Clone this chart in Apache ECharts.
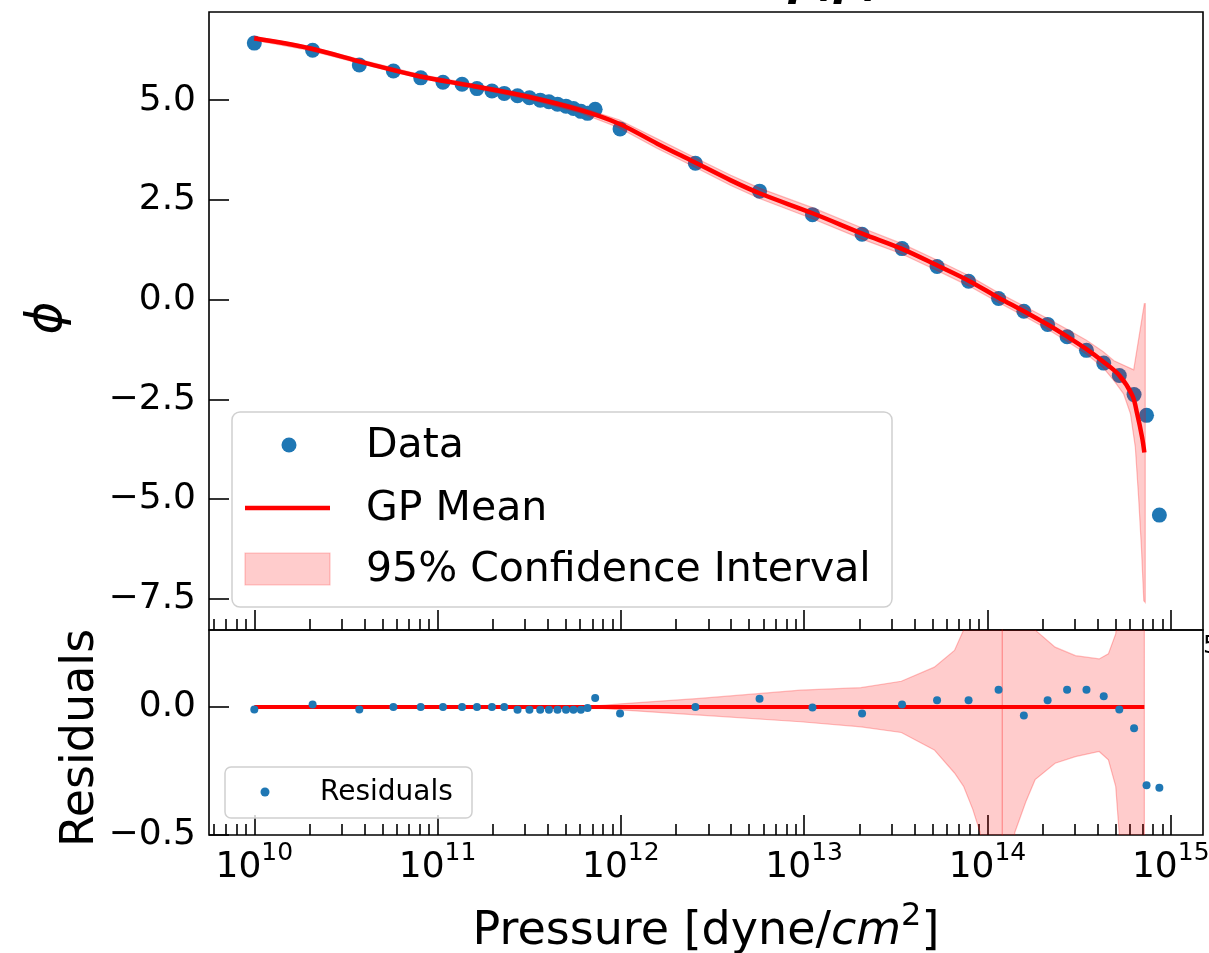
<!DOCTYPE html>
<html><head><meta charset="utf-8">
<script src="https://cdn.jsdelivr.net/npm/echarts@6/dist/echarts.min.js"></script>
<style>html,body{margin:0;padding:0;background:#fff}#c{width:1209px;height:953px}</style>
</head><body><div id="c"></div><script>
// ---- data ----
const pressure = [1.0e10, 2.08e10, 3.74e10, 5.74e10, 8.09e10, 1.07e11, 1.36e11, 1.64e11, 1.98e11, 2.31e11,
  2.73e11, 3.17e11, 3.63e11, 4.05e11, 4.51e11, 5.02e11, 5.51e11, 6.05e11, 6.58e11, 7.24e11,
  9.9e11, 2.55e12, 5.71e12, 1.11e13, 2.07e13, 3.42e13, 5.31e13, 7.89e13, 1.15e14, 1.58e14,
  2.13e14, 2.72e14, 3.47e14, 4.31e14, 5.24e14, 6.31e14, 7.38e14, 8.67e14];
const phi = [6.43, 6.25, 5.88, 5.73, 5.56, 5.45, 5.40, 5.29, 5.23, 5.17,
  5.11, 5.06, 5.00, 4.96, 4.90, 4.85, 4.79, 4.72, 4.67, 4.77,
  4.28, 3.42, 2.72, 2.13, 1.64, 1.28, 0.83, 0.46, 0.03, -0.29,
  -0.62, -0.93, -1.27, -1.59, -1.90, -2.38, -2.90, -5.40];
const residuals = [-0.010, 0.009, -0.010, 0.000, 0.000, 0.000, 0.000, 0.000, 0.000, 0.000,
  -0.011, -0.011, -0.011, -0.011, -0.011, -0.011, -0.011, -0.011, -0.004, 0.035,
  -0.026, 0.000, 0.032, -0.002, -0.026, 0.009, 0.026, 0.026, 0.067, -0.034,
  0.026, 0.067, 0.067, 0.041, -0.010, -0.083, -0.306, -0.316];

// GP mean curve
const gpX = [1.0e10, 2.0e10, 3.98e10, 7.94e10, 1.58e11, 3.16e11, 6.03e11, 9.77e11, 1.58e12, 2.51e12,
  3.98e12, 5.75e12, 1.12e13, 2.09e13, 3.39e13, 5.37e13, 7.94e13, 1.15e14, 1.58e14, 2.14e14,
  2.69e14, 3.47e14, 4.27e14, 5.25e14, 6.17e14, 6.56e14, 6.98e14, 7.18e14];
const gpY = [6.55, 6.30, 5.94, 5.60, 5.35, 5.08, 4.75, 4.41, 3.91, 3.45,
  2.99, 2.66, 2.16, 1.65, 1.28, 0.85, 0.47, 0.05, -0.29, -0.63,
  -0.91, -1.24, -1.55, -1.90, -2.40, -2.86, -3.45, -3.83];

// 95% confidence interval (top panel)
const ciUpX = [1.0e10, 2.0e10, 3.98e10, 7.94e10, 1.58e11, 3.16e11, 6.03e11, 9.77e11, 1.58e12, 2.51e12,
  3.98e12, 5.75e12, 1.12e13, 2.09e13, 3.39e13, 5.37e13, 7.94e13, 1.15e14, 1.58e14, 2.14e14,
  2.69e14, 3.47e14, 4.27e14, 4.90e14, 6.28e14, 7.18e14, 7.26e14];
const ciUpY = [6.60, 6.35, 5.99, 5.65, 5.40, 5.14, 4.82, 4.51, 4.03, 3.57,
  3.12, 2.79, 2.30, 1.79, 1.41, 0.98, 0.60, 0.17, -0.16, -0.48,
  -0.73, -1.02, -1.30, -1.53, -1.76, -0.10, -0.10];
const ciLoX = [1.0e10, 2.0e10, 3.98e10, 7.94e10, 1.58e11, 3.16e11, 6.03e11, 9.77e11, 1.58e12, 2.51e12,
  3.98e12, 5.75e12, 1.12e13, 2.09e13, 3.39e13, 5.37e13, 7.94e13, 1.15e14, 1.58e14, 2.14e14,
  2.69e14, 3.47e14, 4.27e14, 4.90e14, 5.53e14, 6.03e14, 6.41e14, 6.68e14, 6.92e14, 7.13e14, 7.26e14];
const ciLoY = [6.50, 6.25, 5.89, 5.55, 5.30, 5.02, 4.68, 4.31, 3.79, 3.33,
  2.86, 2.53, 2.02, 1.51, 1.15, 0.72, 0.34, -0.07, -0.41, -0.75,
  -1.03, -1.36, -1.70, -2.03, -2.36, -2.86, -3.70, -4.96, -6.21, -7.55, -7.59];

// residual panel: zero line and interval
const resLineX = [1.0e10, 7.18e14];
const resLineY = [0, 0];
const resBandX = [7.08e11, 1.0e12, 2.69e12, 9.55e12, 2.04e13, 3.39e13, 5.13e13, 6.61e13, 7.41e13, 8.32e13,
  9.12e13, 1.0e14, 1.17e14, 1.205e14, 1.23e14, 1.41e14, 1.62e14, 1.82e14, 2.34e14, 3.02e14,
  4.07e14, 4.57e14, 5.01e14, 5.37e14, 6.31e14, 7.18e14];
const resBandUp = [0.003, 0.012, 0.033, 0.065, 0.075, 0.10, 0.155, 0.22, 0.30, 0.42,
  0.6, 0.9, 3, 50, 3, 0.9, 0.5, 0.30, 0.233, 0.20,
  0.187, 0.207, 0.285, 0.5, 2, 5];
const resBandLo = [-0.003, -0.012, -0.032, -0.058, -0.078, -0.10, -0.168, -0.258, -0.31, -0.40,
  -0.49, -0.7, -3, -50, -3, -0.49, -0.37, -0.284, -0.22, -0.194,
  -0.174, -0.207, -0.31, -0.6, -2, -5];
// the interval's edge where it flips sign (thin vertical edge)
const resEdgeX = [1.205e14, 1.205e14];
const resEdgeY = [-50, 50];

// axes
const X_MIN = 5.66e9, X_MAX = 1.50e15;
const xMajorTicks = [1e10, 1e11, 1e12, 1e13, 1e14, 1e15];
const xMinorTicks = [];
for (let e = 9; e <= 14; e++) for (let k = 2; k <= 9; k++) xMinorTicks.push(k * Math.pow(10, e));
const phiTicks = [-7.5, -5.0, -2.5, 0.0, 2.5, 5.0];
const resTicks = [-0.5, 0.0];

// ---- chart ----
const FONT = 'DejaVu Sans';
const BLUE = '#1f77b4';
const tickLine = { color: '#000', width: 1.6 };
const fmtNum = v => (v < 0 ? '\u2212' : '') + Math.abs(v).toFixed(1);

function xAx(grid, major, labels) {
  const ax = {
    type: 'log', logBase: 10, gridIndex: grid, min: X_MIN, max: X_MAX, position: 'bottom',
    axisLine: { show: false, onZero: false }, splitLine: { show: false },
    axisTick: { show: true, inside: true, length: major ? 20 : 11,
      customValues: major ? xMajorTicks : xMinorTicks, lineStyle: tickLine },
    axisLabel: { show: false }
  };
  if (labels) {
    ax.axisLabel = {
      show: true, customValues: xMajorTicks, margin: 6,
      formatter: v => '{b|10}{s|' + Math.round(Math.log10(v)) + '}',
      rich: {
        b: { fontSize: 36, fontFamily: FONT, color: '#000', verticalAlign: 'bottom', lineHeight: 40 },
        s: { fontSize: 25, fontFamily: FONT, color: '#000', verticalAlign: 'bottom', padding: [0, 0, 20, 0] }
      }
    };
    ax.name = '{n|Pressure [dyne/}{i|cm}{s|2}{n|]}';
    ax.nameLocation = 'middle';
    ax.nameGap = 66;
    ax.nameTextStyle = {
      rich: {
        n: { fontSize: 46, fontFamily: FONT, color: '#000', verticalAlign: 'bottom', lineHeight: 52 },
        i: { fontSize: 46, fontFamily: FONT, fontStyle: 'italic', color: '#000', verticalAlign: 'bottom', lineHeight: 52 },
        s: { fontSize: 32, fontFamily: FONT, color: '#000', verticalAlign: 'bottom', padding: [0, 0, 22, 0] }
      }
    };
  }
  return ax;
}

function bandSeries(xi, yi, upX, upY, loX, loY, z) {
  return {
    type: 'custom', xAxisIndex: xi, yAxisIndex: yi, clip: true, z: z, silent: true,
    data: [[upX[0], upY[0]]],
    renderItem: (params, api) => {
      const pts = [];
      for (let i = 0; i < upX.length; i++) pts.push(api.coord([upX[i], upY[i]]));
      for (let i = loX.length - 1; i >= 0; i--) pts.push(api.coord([loX[i], loY[i]]));
      return { type: 'polygon', shape: { points: pts },
        style: { fill: 'rgba(255,0,0,0.2)', stroke: 'rgba(255,0,0,0.25)', lineWidth: 1.2 } };
    }
  };
}

const option = {
  backgroundColor: '#fff',
  animation: false,
  grid: [
    { left: 209, right: 6, top: 12, height: 618, show: true, borderColor: '#000', borderWidth: 1.6,
      backgroundColor: 'transparent', containLabel: false, outerBoundsMode: 'none' },
    { left: 209, right: 6, top: 630, height: 205, show: true, borderColor: '#000', borderWidth: 1.6,
      backgroundColor: 'transparent', containLabel: false, outerBoundsMode: 'none' }
  ],
  xAxis: [xAx(0, true, false), xAx(0, false, false), xAx(1, true, true), xAx(1, false, false)],
  yAxis: [
    { type: 'value', gridIndex: 0, min: -8.28, max: 7.21,
      axisLine: { show: false, onZero: false }, splitLine: { show: false },
      axisTick: { show: true, inside: true, length: 20, customValues: phiTicks, lineStyle: tickLine },
      axisLabel: { customValues: phiTicks, formatter: fmtNum, fontSize: 36, fontFamily: FONT, color: '#000', margin: 13 } },
    { type: 'value', gridIndex: 1, min: -0.5, max: 0.3,
      axisLine: { show: false, onZero: false }, splitLine: { show: false },
      axisTick: { show: true, inside: true, length: 20, customValues: resTicks, lineStyle: tickLine },
      axisLabel: { customValues: resTicks, formatter: fmtNum, fontSize: 36, fontFamily: FONT, color: '#000', margin: 13 } }
  ],
  series: [
    { name: 'Data', type: 'scatter', xAxisIndex: 0, yAxisIndex: 0, symbolSize: 15, z: 2,
      itemStyle: { color: BLUE, opacity: 1 },
      data: pressure.map((p, i) => [p, phi[i]]) },
    { name: 'GP Mean', type: 'line', xAxisIndex: 0, yAxisIndex: 0, showSymbol: false, smooth: 0.35, z: 3,
      lineStyle: { color: '#ff0000', width: 4.5 },
      data: gpX.map((p, i) => [p, gpY[i]]) },
    bandSeries(0, 0, ciUpX, ciUpY, ciLoX, ciLoY, 4),
    bandSeries(2, 1, resBandX, resBandUp, resBandX, resBandLo, 2),
    { name: 'Residual interval edge', type: 'line', xAxisIndex: 2, yAxisIndex: 1, showSymbol: false, z: 2,
      silent: true, clip: true, lineStyle: { color: 'rgba(255,0,0,0.3)', width: 1.3 },
      data: resEdgeX.map((p, i) => [p, resEdgeY[i]]) },
    { name: 'Residual mean', type: 'line', xAxisIndex: 2, yAxisIndex: 1, showSymbol: false, z: 3,
      lineStyle: { color: '#ff0000', width: 4 },
      data: resLineX.map((p, i) => [p, resLineY[i]]) },
    { name: 'Residuals', type: 'scatter', xAxisIndex: 2, yAxisIndex: 1, symbolSize: 8, z: 4,
      itemStyle: { color: BLUE, opacity: 1 },
      data: pressure.map((p, i) => [p, residuals[i]]) }
  ],
  graphic: [
    // y-axis titles
    { type: 'text', z: 10, x: 48, y: 318, rotation: Math.PI / 2,
      style: { text: '\u03D5', fontSize: 50, fontFamily: FONT, fontStyle: 'italic', fill: '#000', align: 'center', verticalAlign: 'middle' } },
    { type: 'text', z: 10, x: 81, y: 738, rotation: Math.PI / 2,
      style: { text: 'Residuals', fontSize: 46, fontFamily: FONT, fill: '#000', align: 'center', verticalAlign: 'middle' } },
    // clipped title at the top edge
    { type: 'text', z: 10, style: { text: '\u03D5(p)', x: 832, y: 6, fontSize: 44, fontFamily: FONT, fontStyle: 'italic', fontWeight: 'bold', fill: '#000', align: 'center', verticalAlign: 'bottom' } },
    // top legend
    { type: 'rect', z: 20, shape: { x: 232, y: 412, width: 660, height: 195, r: 8 },
      style: { fill: 'rgba(255,255,255,0.8)', stroke: '#d0d0d0', lineWidth: 1.5 } },
    { type: 'circle', z: 21, shape: { cx: 289, cy: 445, r: 7.5 }, style: { fill: BLUE } },
    { type: 'text', z: 21, style: { text: 'Data', x: 366, y: 446, fontSize: 41, fontFamily: FONT, fill: '#000', verticalAlign: 'middle' } },
    { type: 'line', z: 21, shape: { x1: 245, y1: 508, x2: 330, y2: 508 }, style: { stroke: '#ff0000', lineWidth: 4.5 } },
    { type: 'text', z: 21, style: { text: 'GP Mean', x: 366, y: 509, fontSize: 41, fontFamily: FONT, fill: '#000', verticalAlign: 'middle' } },
    { type: 'rect', z: 21, shape: { x: 245, y: 553, width: 85, height: 32 }, style: { fill: 'rgba(255,0,0,0.2)', stroke: 'rgba(255,0,0,0.22)', lineWidth: 1.2 } },
    { type: 'text', z: 21, style: { text: '95% Confidence Interval', x: 366, y: 570, fontSize: 41, fontFamily: FONT, fill: '#000', verticalAlign: 'middle' } },
    // bottom legend
    { type: 'rect', z: 20, shape: { x: 225, y: 767, width: 247, height: 51, r: 6 },
      style: { fill: 'rgba(255,255,255,0.8)', stroke: '#d0d0d0', lineWidth: 1.5 } },
    { type: 'circle', z: 21, shape: { cx: 265, cy: 792, r: 4.5 }, style: { fill: BLUE } },
    { type: 'text', z: 21, style: { text: 'Residuals', x: 320, y: 793, fontSize: 28, fontFamily: FONT, fill: '#000', verticalAlign: 'middle' } },
    // superscript of the hidden upper-panel 10^15 label peeking out at the right edge
    { type: 'text', z: 10, style: { text: '5', x: 1203, y: 634, fontSize: 25, fontFamily: FONT, fill: '#000', verticalAlign: 'top' } }
  ]
};
const chart = echarts.init(document.getElementById('c'), null, { renderer: 'canvas' });
chart.setOption(option);
</script></body></html>
